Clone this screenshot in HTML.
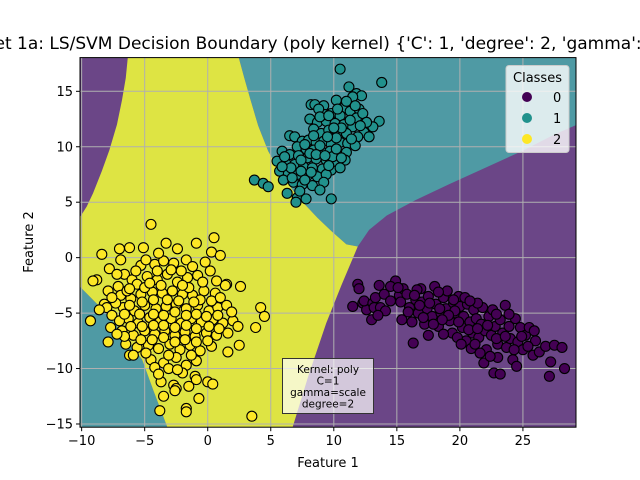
<!DOCTYPE html>
<html><head><meta charset="utf-8"><style>
html,body{margin:0;padding:0;background:#fff;}
svg{display:block;font-family:"DejaVu Sans","Liberation Sans",sans-serif;}
</style></head><body>
<svg id="chart" width="640" height="480" viewBox="0 0 640 480">
<defs><clipPath id="clip"><rect x="80" y="57.6" width="496" height="369.6"/></clipPath></defs>
<text x="328" y="49" text-anchor="middle" font-size="17" fill="#000">Dataset 1a: LS/SVM Decision Boundary (poly kernel) {'C': 1, 'degree': 2, 'gamma': 'scale'}</text>
<g id="regions" clip-path="url(#clip)"></g>
<g id="grid"></g>
<g id="points" clip-path="url(#clip)"></g>
<rect x="80" y="57.6" width="496" height="369.6" fill="none" stroke="#000" stroke-width="1"/>
<g id="ticks"></g>
<text x="328" y="467" text-anchor="middle" font-size="13">Feature 1</text>
<text x="0" y="0" text-anchor="middle" font-size="13" transform="translate(33,242) rotate(-90)">Feature 2</text>
<g>
<rect x="506" y="65.5" width="63" height="87" rx="3" fill="#fff" fill-opacity="0.8" stroke="#ccc"/>
<text x="537.5" y="82" text-anchor="middle" font-size="13">Classes</text>
<circle cx="527" cy="97" r="5" fill="#440154"/>
<text x="553" y="102" font-size="13">0</text>
<circle cx="527" cy="118" r="5" fill="#21918c"/>
<text x="553" y="123" font-size="13">1</text>
<circle cx="527" cy="139" r="5" fill="#fde725"/>
<text x="553" y="144" font-size="13">2</text>
</g>
<g>
<rect x="282.5" y="358.5" width="91" height="55" fill="#fff" fill-opacity="0.7" stroke="#333"/>
<text x="328" y="373" text-anchor="middle" font-size="10.5">Kernel: poly</text>
<text x="328" y="384.5" text-anchor="middle" font-size="10.5">C=1</text>
<text x="328" y="396" text-anchor="middle" font-size="10.5">gamma=scale</text>
<text x="328" y="407.5" text-anchor="middle" font-size="10.5">degree=2</text>
</g>
</svg>
<script>
const xTicks=[-10,-5,0,5,10,15,20,25];
const yTicks=[-15,-10,-5,0,5,10,15];
const xTickLabels=["\u221210","\u22125","0","5","10","15","20","25"];
const yTickLabels=["\u221215","\u221210","\u22125","0","5","10","15"];
const tealTop=[[2.35,18.5],[29.5,18.5],[29.5,12.1],[27.5,11.1],[24.9,9.6],[22,8.1],[19.1,6.6],[16.5,5.2],[14.2,3.8],[12.8,2.5],[11.9,1.0],[11.0,1.2],[9.8,2.4],[8.7,3.6],[7.7,4.8],[6.8,6.0],[5.7,7.8],[4.8,9.6],[4.0,11.9],[3.4,14.2],[2.9,16.2]];
const yellowRegion=[[-6.3,18.5],[2.35,18.5],[2.9,16.2],[3.4,14.2],[4.0,11.9],[4.8,9.6],[5.7,7.8],[6.8,6.0],[7.7,4.8],[8.7,3.6],[9.8,2.4],[11.0,1.2],[11.9,1.0],[10.6,-2.5],[9.4,-5.9],[8.0,-10.6],[6.65,-15.6],[-3.1,-15.6],[-4.3,-12],[-5.2,-9.2],[-6.5,-7.2],[-7.8,-5.3],[-10.5,-2.2],[-10.5,3.0],[-9.6,4.6],[-9.1,5.8],[-8.4,7.8],[-7.8,9.7],[-7.2,12],[-6.8,14.2],[-6.5,16.2]];
const tealBottom=[[-10.5,-2.2],[-7.8,-5.3],[-6.5,-7.2],[-5.2,-9.2],[-4.3,-12],[-3.1,-15.6],[-10.5,-15.6]];
const class1=[[10.5,17],[13.8,15.8],[11.2,15.4],[11.8,14.8],[12.2,14.6],[10.2,14.2],[11.5,14.5],[8.2,13.8],[8.5,13.8],[9.2,13.7],[10.8,13.5],[11.3,13.2],[12,13.4],[9.8,13],[10.5,12.8],[11.8,12.6],[12.3,13],[13.6,12.3],[8.1,12.5],[8.7,12.2],[9.4,12.3],[10.1,12.1],[10.8,12],[11.5,11.8],[12.4,11.3],[8.4,11.6],[9,11.2],[9.6,11.5],[10.3,11.3],[11,11.2],[11.9,10.9],[12.8,10.9],[13.1,11.8],[6.5,11],[6.9,10.9],[7.5,10.5],[8,10.6],[8.6,10.4],[9.2,10.5],[9.8,10.2],[10.5,10.4],[11.1,10.3],[11.7,10.1],[7.1,10],[7.8,9.8],[8.4,9.7],[9,9.6],[9.7,9.6],[10.4,9.3],[11,9.5],[5.9,9.6],[6.5,9.3],[7.2,9.2],[7.9,9],[8.6,8.9],[9.4,8.8],[10.2,8.6],[10.9,8.8],[5.5,8.7],[6.2,8.5],[6.9,8.4],[7.6,8.2],[8.3,8.1],[9.1,8],[9.8,7.9],[10.5,8.1],[5.7,7.8],[6.4,7.6],[7.1,7.5],[7.9,7.4],[8.7,7.3],[9.4,7.5],[6,7],[6.8,6.8],[7.5,6.6],[8.3,6.5],[9.2,6.8],[3.7,7],[4.4,6.7],[4.8,6.4],[6.3,5.8],[7.1,5.4],[7,5],[7.8,5.3],[9.8,5.3],[7.3,6],[8.9,6.1],[9.9,9.1],[10.6,11.7],[9.3,12.9],[8.8,13.4],[8.9,12.7],[9.6,12.8],[10.3,13.4],[11,14.1],[11.7,13.7],[12.6,12.2],[10.2,10.8],[9.5,10.9],[8.9,10.1],[8.1,9.4],[7.4,8.8],[6.6,8.1],[7.4,7.8],[8.2,7.7],[9.6,8.3],[10.2,9.8],[11.4,10.7],[12.1,11.9],[6.1,9.1],[5.9,8.2],[8.6,9.3],[9.3,9.2],[10.6,9.0],[11.3,12.4],[10.0,11.7],[7.7,10.2],[8.4,11],[6.7,7.2],[7.7,7]];
const class0=[[11.5,-4.4],[11.9,-2.4],[12,-2.8],[12.3,-4.1],[12.6,-4.7],[12.4,-3.9],[13.1,-4.1],[13,-5.6],[13.2,-4.5],[13.3,-3.6],[13.6,-2.5],[14,-3.3],[13.7,-4.5],[14.9,-2.1],[14.5,-2.6],[15.2,-3.4],[15.5,-2.8],[15.3,-4],[15.4,-5.6],[15.8,-3.3],[16,-4.5],[16.2,-5.8],[16.3,-7.7],[16.5,-3.8],[16.7,-5],[16.9,-2.8],[17,-4],[17.2,-6],[17.4,-4.6],[17.5,-3.5],[17.8,-5.3],[18,-2.6],[18.1,-4.2],[18.3,-6.2],[18.5,-5],[18.7,-3.6],[18.9,-4.6],[19,-3],[19.2,-5.7],[19.4,-6.8],[19.5,-4.1],[19.7,-5],[19.9,-3.5],[20,-4.4],[20.2,-6.3],[20.3,-5.3],[20.5,-7.5],[20.6,-4.2],[20.8,-5.8],[21,-6.8],[21.1,-4.7],[21.3,-5.5],[21.5,-7.2],[21.7,-6],[21.8,-4.5],[22,-6.6],[22.1,-8.3],[22.3,-5.3],[22.5,-7],[22.6,-4.7],[22.8,-6.2],[23,-7.8],[23,-9],[23.2,-5.6],[23.4,-6.8],[23.6,-4.3],[23.7,-8.1],[23.9,-6.2],[24,-7.3],[24.2,-9.2],[24.4,-5.5],[24.6,-7.6],[24.8,-6.3],[25,-8.3],[25.2,-7],[25.5,-6.3],[25.8,-8.8],[26,-7.5],[26.3,-8.5],[26.8,-8],[27.2,-9.4],[27.5,-7.9],[28.1,-8.1],[28.3,-10],[27.1,-10.7],[22.7,-10.4],[23.2,-10.5],[24.5,-9.8],[25.4,-8],[19.8,-7.2],[18.7,-6.9],[17.5,-7],[21.9,-9.5],[20.9,-8.2],[15.1,-2.7],[16.6,-2.9],[19.6,-4.8],[20.4,-3.6],[21.4,-4.1],[15.9,-4.9],[16.8,-4.3],[17.6,-4.1],[18.4,-4.6],[19.1,-5.2],[19.9,-5.8],[20.7,-6.5],[21.4,-6.4],[22.2,-6.1],[22.9,-7.3],[23.6,-7.1],[24.3,-8.3],[21.2,-7.8],[20.1,-7.8],[18.6,-5.6],[17.9,-6],[17.1,-5.4],[16.4,-3.4],[14.5,-3.9],[14.1,-4.8],[22.4,-8.9],[21.6,-8.6],[24.9,-7.1],[25.9,-6.6],[23.9,-5.1],[22.9,-5.1],[20.8,-3.9],[19.5,-3.8],[18.3,-3.1],[13.5,-5.2]];
const class2=[[-4.5,3],[-3.3,1.3],[-2.4,0.8],[-5.1,0.9],[-6.2,0.9],[-7,0.8],[-8.4,0.3],[-0.9,1.3],[0.5,1.8],[0.3,0.5],[1,0.2],[-0.2,-0.4],[-7.8,-1],[-5.3,-0.7],[-4.2,-0.6],[-3.5,-0.3],[-2.7,-0.5],[-1.7,-0.2],[-6.6,-1.5],[-6,-2],[-8.8,-2],[-9.1,-2.1],[-7.1,-2.6],[-5.6,-2.4],[-4.8,-1.7],[-4,-2],[-3.2,-1.5],[-2.4,-2.2],[-1.6,-1.8],[-0.8,-1.6],[0.2,-1.2],[1.5,-2.4],[1.4,-2.5],[2.6,-2.6],[-7.9,-3],[-6.9,-3.4],[-6.1,-3.7],[-5.3,-3.3],[-4.4,-3.1],[-3.6,-3.2],[-2.8,-3],[-2,-3.3],[-1.2,-3.4],[-0.3,-3],[0.6,-3.2],[-8.2,-4.2],[-8,-4.5],[-6.7,-4.5],[-5.8,-4.8],[-5,-4.3],[-4.1,-4.6],[-3.3,-4.4],[-2.5,-4.2],[-1.7,-4.6],[-0.8,-4.3],[0.1,-4.8],[0.8,-4.5],[1.5,-4.3],[4.2,-4.5],[4.5,-5.3],[-9.3,-5.7],[-7.6,-5.2],[-6.3,-5.5],[-5.5,-5.9],[-4.6,-5.4],[-3.8,-5.8],[-2.9,-5.5],[-2.1,-5.9],[-1.3,-5.5],[-0.5,-5.8],[0.4,-5.6],[1.2,-5.9],[2,-5.7],[2.4,-6.2],[3.8,-6.3],[-7.7,-6.3],[-6.8,-6.6],[-5.9,-7],[-5,-6.6],[-4.2,-6.9],[-3.4,-6.6],[-2.6,-7],[-1.8,-6.7],[-1,-7.1],[-0.1,-6.8],[0.7,-7],[1.6,-6.8],[-7.9,-7.6],[-6.5,-7.8],[-5.6,-8.1],[-4.7,-7.9],[-3.9,-8.2],[-3,-7.8],[-2.2,-8.3],[-1.4,-7.9],[-0.6,-8.4],[0.3,-8],[1.6,-8.5],[2.5,-7.9],[-6.2,-8.8],[-5.9,-8.8],[-4.5,-9.2],[-3.5,-9.5],[-2.5,-9],[-1.7,-9.7],[-0.9,-9.3],[-4.2,-9.9],[-3.1,-10],[-2,-10.4],[-1,-10.7],[-0.9,-11],[-3.7,-11.2],[-2.7,-11.5],[-1.5,-11.6],[0,-11.2],[0.4,-11.4],[-2.5,-11.8],[-2.6,-12],[-0.7,-12.7],[-3.5,-12.5],[-3.8,-13.8],[-1.7,-13.6],[-1.7,-13.9],[3.5,-14.3],[-6.6,-7.1],[-7.2,-1.5],[-6.4,-3.0],[-5.7,-1.2],[-4.9,-0.2],[-3.9,0.4],[-2.9,-1.1],[-2.1,-1.2],[-1.2,-0.8],[-0.4,-2.2],[0.7,-2.1],[-6.9,-0.2],[-6.2,-2.8],[-5,-2.7],[-4.3,-3.8],[-3.2,-3.8],[-2.3,-3.9],[-1.5,-2.7],[-0.6,-3.8],[0.3,-3.9],[1.0,-3.6],[-7.3,-4.1],[-6.2,-4.3],[-5.4,-5.1],[-4.3,-5.1],[-3.5,-5.2],[-2.6,-4.9],[-1.7,-5.2],[-0.9,-5.1],[-0.1,-5.3],[0.8,-5.2],[-7.0,-5.7],[-6.1,-6.2],[-5.2,-6.2],[-4.3,-6.1],[-3.5,-6.1],[-2.6,-6.3],[-1.7,-6.1],[-0.9,-6.4],[0.1,-6.2],[0.9,-6.4],[-5.3,-7.4],[-4.4,-7.4],[-3.5,-7.2],[-2.6,-7.6],[-1.8,-7.4],[-0.9,-7.6],[0,-7.5],[-7.2,-6.9],[-4.9,-8.6],[-3.1,-8.8],[-1.3,-8.8],[-3.9,-10.5],[-2.4,-10.1],[-5.2,-4.0],[-3.7,-2.5],[-2.0,-2.5],[-4.6,-2.3],[-1.1,-4.0],[-6.6,-5.1],[1.9,-4.9],[-7.6,-3.6],[-8.6,-4.7],[-4.0,-1.2]];

const X0=80,X1=576,Y0=427.2,Y1=57.6,xmin=-10.13,xmax=29.21,ymin=-15.29,ymax=18.04;
function sx(v){return X0+(v-xmin)/(xmax-xmin)*(X1-X0);}
function sy(v){return Y0-(v-ymin)/(ymax-ymin)*(Y0-Y1);}
const NS="http://www.w3.org/2000/svg";
function mk(tag,attrs,parent){const e=document.createElementNS(NS,tag);for(const k in attrs)e.setAttribute(k,attrs[k]);parent.appendChild(e);return e;}
const reg=document.getElementById('regions');
const bg=mk('rect',{x:X0,y:Y1,width:X1-X0,height:Y0-Y1,fill:'#6b4687'},reg);


function poly(pts,fill,name){const p=mk('polygon',{points:pts.map(q=>sx(q[0])+','+sy(q[1])).join(' '),fill:fill},reg);

}
poly(tealTop,'#4f9aa4','region-class-1-upper');
poly(tealBottom,'#4f9aa4','region-class-1-lower');
poly(yellowRegion,'#dee443','region-class-2');
const grid=document.getElementById('grid'),ticks=document.getElementById('ticks');
xTicks.forEach((v,i)=>{const x=sx(v);
const g=mk('line',{x1:x,x2:x,y1:Y1,y2:Y0,stroke:'#b0b0b0','stroke-width':1},grid);


const t=mk('line',{x1:x,x2:x,y1:Y0,y2:Y0+4,stroke:'#000'},ticks);


const l=mk('text',{x:x,y:Y0+18,'text-anchor':'middle','font-size':13},ticks);l.textContent=xTickLabels[i];

});
yTicks.forEach((v,i)=>{const y=sy(v);
const g=mk('line',{x1:X0,x2:X1,y1:y,y2:y,stroke:'#b0b0b0','stroke-width':1},grid);


const t=mk('line',{x1:X0-4,x2:X0,y1:y,y2:y,stroke:'#000'},ticks);


const l=mk('text',{x:X0-7,y:y+4.5,'text-anchor':'end','font-size':13},ticks);l.textContent=yTickLabels[i];

});
const pg=document.getElementById('points');
[[class2,'#fde725','point-class-2'],[class1,'#21918c','point-class-1'],[class0,'#440154','point-class-0']].forEach(([arr,col,name])=>{
arr.forEach(p=>{const c=mk('circle',{cx:sx(p[0]),cy:sy(p[1]),r:5,fill:col,stroke:'#000','stroke-width':1.1},pg);

});});
</script>
</body></html>
